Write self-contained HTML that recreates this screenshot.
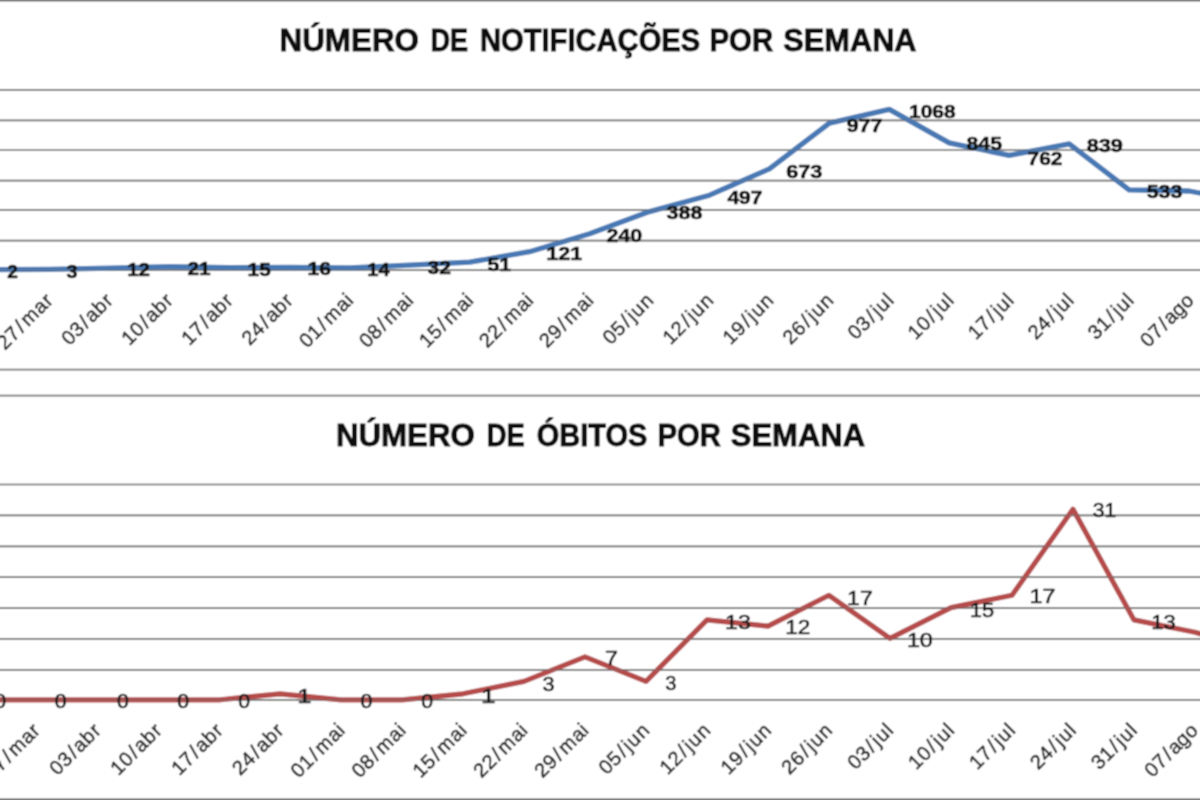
<!DOCTYPE html><html><head><meta charset="utf-8"><style>html,body{margin:0;padding:0;background:#fff;}svg{display:block}</style></head><body>
<svg width="1200" height="800" viewBox="0 0 1200 800">
<defs><filter id="blur" filterUnits="userSpaceOnUse" x="0" y="0" width="1200" height="800"><feConvolveMatrix order="3" kernelMatrix="1 2 1 2 4 2 1 2 1" divisor="16" edgeMode="duplicate"/></filter></defs>
<rect width="1200" height="800" fill="#ffffff"/>
<g filter="url(#blur)">
<rect width="1200" height="800" fill="#ffffff"/>
<rect x="0" y="0" width="1200" height="1.4" fill="#666"/>
<rect x="0" y="798.5" width="1200" height="1.5" fill="#666"/>
<line x1="0" x2="1200" y1="369.7" y2="369.7" stroke="#747474" stroke-width="1.7"/>
<line x1="0" x2="1200" y1="395.6" y2="395.6" stroke="#747474" stroke-width="1.7"/>
<line x1="0" x2="1200" y1="89.8" y2="89.8" stroke="#747474" stroke-width="1.7"/>
<line x1="0" x2="1200" y1="120.3" y2="120.3" stroke="#747474" stroke-width="1.7"/>
<line x1="0" x2="1200" y1="150.0" y2="150.0" stroke="#747474" stroke-width="1.7"/>
<line x1="0" x2="1200" y1="180.6" y2="180.6" stroke="#747474" stroke-width="1.7"/>
<line x1="0" x2="1200" y1="209.9" y2="209.9" stroke="#747474" stroke-width="1.7"/>
<line x1="0" x2="1200" y1="240.7" y2="240.7" stroke="#747474" stroke-width="1.7"/>
<line x1="0" x2="1200" y1="270.2" y2="270.2" stroke="#747474" stroke-width="1.7"/>
<line x1="0" x2="1200" y1="484.5" y2="484.5" stroke="#747474" stroke-width="1.7"/>
<line x1="0" x2="1200" y1="515.3" y2="515.3" stroke="#747474" stroke-width="1.7"/>
<line x1="0" x2="1200" y1="546.3" y2="546.3" stroke="#747474" stroke-width="1.7"/>
<line x1="0" x2="1200" y1="577.2" y2="577.2" stroke="#747474" stroke-width="1.7"/>
<line x1="0" x2="1200" y1="608.1" y2="608.1" stroke="#747474" stroke-width="1.7"/>
<line x1="0" x2="1200" y1="638.9" y2="638.9" stroke="#747474" stroke-width="1.7"/>
<line x1="0" x2="1200" y1="669.8" y2="669.8" stroke="#747474" stroke-width="1.7"/>
<line x1="0" x2="1200" y1="699.9" y2="699.9" stroke="#747474" stroke-width="1.7"/>
<text x="279.51" y="50.8" font-family="Liberation Sans" font-weight="bold" font-size="31.5" fill="#111" stroke="#111" stroke-width="0.9" textLength="139.49" lengthAdjust="spacingAndGlyphs">NÚMERO</text>
<text x="430.48" y="50.8" font-family="Liberation Sans" font-weight="bold" font-size="31.5" fill="#111" stroke="#111" stroke-width="0.9" textLength="37.68" lengthAdjust="spacingAndGlyphs">DE</text>
<text x="479.95" y="50.8" font-family="Liberation Sans" font-weight="bold" font-size="31.5" fill="#111" stroke="#111" stroke-width="0.9" textLength="220.28" lengthAdjust="spacingAndGlyphs">NOTIFICAÇÕES</text>
<text x="709.43" y="50.8" font-family="Liberation Sans" font-weight="bold" font-size="31.5" fill="#111" stroke="#111" stroke-width="0.9" textLength="63.75" lengthAdjust="spacingAndGlyphs">POR</text>
<text x="783.32" y="50.8" font-family="Liberation Sans" font-weight="bold" font-size="31.5" fill="#111" stroke="#111" stroke-width="0.9" textLength="133.27" lengthAdjust="spacingAndGlyphs">SEMANA</text>
<text x="335.91" y="445.8" font-family="Liberation Sans" font-weight="bold" font-size="31.5" fill="#111" stroke="#111" stroke-width="0.9" textLength="138.98" lengthAdjust="spacingAndGlyphs">NÚMERO</text>
<text x="486.76" y="445.8" font-family="Liberation Sans" font-weight="bold" font-size="31.5" fill="#111" stroke="#111" stroke-width="0.9" textLength="38.00" lengthAdjust="spacingAndGlyphs">DE</text>
<text x="536.68" y="445.8" font-family="Liberation Sans" font-weight="bold" font-size="31.5" fill="#111" stroke="#111" stroke-width="0.9" textLength="110.66" lengthAdjust="spacingAndGlyphs">ÓBITOS</text>
<text x="657.44" y="445.8" font-family="Liberation Sans" font-weight="bold" font-size="31.5" fill="#111" stroke="#111" stroke-width="0.9" textLength="63.48" lengthAdjust="spacingAndGlyphs">POR</text>
<text x="730.77" y="445.8" font-family="Liberation Sans" font-weight="bold" font-size="31.5" fill="#111" stroke="#111" stroke-width="0.9" textLength="134.33" lengthAdjust="spacingAndGlyphs">SEMANA</text>
<polyline points="-10.0,269.6 50.0,269.4 110.0,268.1 169.9,266.7 229.9,267.6 289.8,267.5 349.8,267.8 409.7,265.1 469.7,262.2 529.6,251.7 589.6,233.8 649.5,211.6 709.5,195.2 769.4,168.8 829.4,123.1 889.3,109.4 949.2,142.9 1009.2,155.4 1069.2,143.8 1129.1,189.8 1189.0,191.0 1249.0,202.3" fill="none" stroke="#4a79b4" stroke-width="5.3" stroke-linejoin="round" stroke-linecap="round"/>
<polyline points="-25.0,699.9 36.0,699.9 97.0,699.9 158.0,699.9 219.0,699.9 280.0,693.8 341.0,699.9 402.0,699.9 463.0,693.8 524.0,681.4 585.0,656.9 646.0,681.4 707.0,619.9 768.0,626.1 829.0,595.3 890.0,638.4 951.0,607.6 1012.0,595.3 1073.0,509.2 1134.0,619.9 1195.0,632.2 1256.0,650.7" fill="none" stroke="#b54c4b" stroke-width="5.2" stroke-linejoin="round" stroke-linecap="round"/>
<line x1="0" x2="1200" y1="484.5" y2="484.5" stroke="#747474" stroke-width="1.7" opacity="0.4"/>
<line x1="0" x2="1200" y1="515.3" y2="515.3" stroke="#747474" stroke-width="1.7" opacity="0.4"/>
<line x1="0" x2="1200" y1="546.3" y2="546.3" stroke="#747474" stroke-width="1.7" opacity="0.4"/>
<line x1="0" x2="1200" y1="577.2" y2="577.2" stroke="#747474" stroke-width="1.7" opacity="0.4"/>
<line x1="0" x2="1200" y1="608.1" y2="608.1" stroke="#747474" stroke-width="1.7" opacity="0.4"/>
<line x1="0" x2="1200" y1="638.9" y2="638.9" stroke="#747474" stroke-width="1.7" opacity="0.4"/>
<line x1="0" x2="1200" y1="669.8" y2="669.8" stroke="#747474" stroke-width="1.7" opacity="0.4"/>
<line x1="0" x2="1200" y1="699.9" y2="699.9" stroke="#747474" stroke-width="1.7" opacity="0.4"/>
<line x1="0" x2="1200" y1="89.8" y2="89.8" stroke="#747474" stroke-width="1.7" opacity="0.3"/>
<line x1="0" x2="1200" y1="120.3" y2="120.3" stroke="#747474" stroke-width="1.7" opacity="0.3"/>
<line x1="0" x2="1200" y1="150.0" y2="150.0" stroke="#747474" stroke-width="1.7" opacity="0.3"/>
<line x1="0" x2="1200" y1="180.6" y2="180.6" stroke="#747474" stroke-width="1.7" opacity="0.3"/>
<line x1="0" x2="1200" y1="209.9" y2="209.9" stroke="#747474" stroke-width="1.7" opacity="0.3"/>
<line x1="0" x2="1200" y1="240.7" y2="240.7" stroke="#747474" stroke-width="1.7" opacity="0.3"/>
<line x1="0" x2="1200" y1="270.2" y2="270.2" stroke="#747474" stroke-width="1.7" opacity="0.3"/>
<text x="7.27" y="277.50" font-family="Liberation Sans" font-weight="bold" font-size="18.5" fill="#111" stroke="#111" stroke-width="0.6" textLength="10.63" lengthAdjust="spacingAndGlyphs">2</text>
<text x="66.63" y="277.50" font-family="Liberation Sans" font-weight="bold" font-size="18.5" fill="#111" stroke="#111" stroke-width="0.6" textLength="10.97" lengthAdjust="spacingAndGlyphs">3</text>
<text x="127.19" y="275.80" font-family="Liberation Sans" font-weight="bold" font-size="18.5" fill="#111" stroke="#111" stroke-width="0.6" textLength="22.74" lengthAdjust="spacingAndGlyphs">12</text>
<text x="187.58" y="275.35" font-family="Liberation Sans" font-weight="bold" font-size="18.5" fill="#111" stroke="#111" stroke-width="0.6" textLength="23.07" lengthAdjust="spacingAndGlyphs">21</text>
<text x="247.63" y="275.75" font-family="Liberation Sans" font-weight="bold" font-size="18.5" fill="#111" stroke="#111" stroke-width="0.6" textLength="23.01" lengthAdjust="spacingAndGlyphs">15</text>
<text x="307.61" y="275.45" font-family="Liberation Sans" font-weight="bold" font-size="18.5" fill="#111" stroke="#111" stroke-width="0.6" textLength="23.45" lengthAdjust="spacingAndGlyphs">16</text>
<text x="367.22" y="275.80" font-family="Liberation Sans" font-weight="bold" font-size="18.5" fill="#111" stroke="#111" stroke-width="0.6" textLength="22.32" lengthAdjust="spacingAndGlyphs">14</text>
<text x="427.46" y="274.05" font-family="Liberation Sans" font-weight="bold" font-size="18.5" fill="#111" stroke="#111" stroke-width="0.6" textLength="23.39" lengthAdjust="spacingAndGlyphs">32</text>
<text x="487.46" y="270.90" font-family="Liberation Sans" font-weight="bold" font-size="18.5" fill="#111" stroke="#111" stroke-width="0.6" textLength="23.50" lengthAdjust="spacingAndGlyphs">51</text>
<text x="546.33" y="260.10" font-family="Liberation Sans" font-weight="bold" font-size="18.5" fill="#111" stroke="#111" stroke-width="0.6" textLength="35.97" lengthAdjust="spacingAndGlyphs">121</text>
<text x="606.44" y="241.80" font-family="Liberation Sans" font-weight="bold" font-size="18.5" fill="#111" stroke="#111" stroke-width="0.6" textLength="35.76" lengthAdjust="spacingAndGlyphs">240</text>
<text x="666.43" y="218.90" font-family="Liberation Sans" font-weight="bold" font-size="18.5" fill="#111" stroke="#111" stroke-width="0.6" textLength="35.97" lengthAdjust="spacingAndGlyphs">388</text>
<text x="727.40" y="203.60" font-family="Liberation Sans" font-weight="bold" font-size="18.5" fill="#111" stroke="#111" stroke-width="0.6" textLength="34.98" lengthAdjust="spacingAndGlyphs">497</text>
<text x="786.23" y="178.25" font-family="Liberation Sans" font-weight="bold" font-size="18.5" fill="#111" stroke="#111" stroke-width="0.6" textLength="36.18" lengthAdjust="spacingAndGlyphs">673</text>
<text x="846.84" y="131.50" font-family="Liberation Sans" font-weight="bold" font-size="18.5" fill="#111" stroke="#111" stroke-width="0.6" textLength="35.65" lengthAdjust="spacingAndGlyphs">977</text>
<text x="909.07" y="117.67" font-family="Liberation Sans" font-weight="bold" font-size="18.5" fill="#111" stroke="#111" stroke-width="0.6" textLength="46.50" lengthAdjust="spacingAndGlyphs">1068</text>
<text x="966.55" y="150.45" font-family="Liberation Sans" font-weight="bold" font-size="18.5" fill="#111" stroke="#111" stroke-width="0.6" textLength="35.44" lengthAdjust="spacingAndGlyphs">845</text>
<text x="1027.62" y="164.65" font-family="Liberation Sans" font-weight="bold" font-size="18.5" fill="#111" stroke="#111" stroke-width="0.6" textLength="34.85" lengthAdjust="spacingAndGlyphs">762</text>
<text x="1086.73" y="152.15" font-family="Liberation Sans" font-weight="bold" font-size="18.5" fill="#111" stroke="#111" stroke-width="0.6" textLength="36.18" lengthAdjust="spacingAndGlyphs">839</text>
<text x="1146.75" y="198.35" font-family="Liberation Sans" font-weight="bold" font-size="18.5" fill="#111" stroke="#111" stroke-width="0.6" textLength="35.49" lengthAdjust="spacingAndGlyphs">533</text>
<text x="-5.74" y="708.00" font-family="Liberation Sans" font-size="19.5" fill="#1a1a1a" stroke="#1a1a1a" stroke-width="0.6" textLength="11.81" lengthAdjust="spacingAndGlyphs">0</text>
<text x="54.89" y="708.00" font-family="Liberation Sans" font-size="19.5" fill="#1a1a1a" stroke="#1a1a1a" stroke-width="0.6" textLength="11.81" lengthAdjust="spacingAndGlyphs">0</text>
<text x="117.01" y="708.00" font-family="Liberation Sans" font-size="19.5" fill="#1a1a1a" stroke="#1a1a1a" stroke-width="0.6" textLength="11.81" lengthAdjust="spacingAndGlyphs">0</text>
<text x="177.26" y="708.00" font-family="Liberation Sans" font-size="19.5" fill="#1a1a1a" stroke="#1a1a1a" stroke-width="0.6" textLength="11.81" lengthAdjust="spacingAndGlyphs">0</text>
<text x="238.26" y="708.00" font-family="Liberation Sans" font-size="19.5" fill="#1a1a1a" stroke="#1a1a1a" stroke-width="0.6" textLength="11.81" lengthAdjust="spacingAndGlyphs">0</text>
<text x="297.38" y="702.50" font-family="Liberation Sans" font-size="19.5" fill="#1a1a1a" stroke="#1a1a1a" stroke-width="0.6" textLength="14.23" lengthAdjust="spacingAndGlyphs">1</text>
<text x="360.64" y="708.25" font-family="Liberation Sans" font-size="19.5" fill="#1a1a1a" stroke="#1a1a1a" stroke-width="0.6" textLength="11.81" lengthAdjust="spacingAndGlyphs">0</text>
<text x="421.26" y="708.25" font-family="Liberation Sans" font-size="19.5" fill="#1a1a1a" stroke="#1a1a1a" stroke-width="0.6" textLength="11.81" lengthAdjust="spacingAndGlyphs">0</text>
<text x="481.06" y="702.50" font-family="Liberation Sans" font-size="19.5" fill="#1a1a1a" stroke="#1a1a1a" stroke-width="0.6" textLength="14.57" lengthAdjust="spacingAndGlyphs">1</text>
<text x="542.64" y="691.00" font-family="Liberation Sans" font-size="19.5" fill="#1a1a1a" stroke="#1a1a1a" stroke-width="0.6" textLength="12.05" lengthAdjust="spacingAndGlyphs">3</text>
<text x="605.06" y="665.12" font-family="Liberation Sans" font-size="19.5" fill="#1a1a1a" stroke="#1a1a1a" stroke-width="0.6" textLength="12.95" lengthAdjust="spacingAndGlyphs">7</text>
<text x="665.22" y="689.50" font-family="Liberation Sans" font-size="19.5" fill="#1a1a1a" stroke="#1a1a1a" stroke-width="0.6" textLength="11.15" lengthAdjust="spacingAndGlyphs">3</text>
<text x="725.13" y="628.88" font-family="Liberation Sans" font-size="19.5" fill="#1a1a1a" stroke="#1a1a1a" stroke-width="0.6" textLength="25.68" lengthAdjust="spacingAndGlyphs">13</text>
<text x="785.18" y="634.25" font-family="Liberation Sans" font-size="19.5" fill="#1a1a1a" stroke="#1a1a1a" stroke-width="0.6" textLength="25.11" lengthAdjust="spacingAndGlyphs">12</text>
<text x="847.13" y="604.50" font-family="Liberation Sans" font-size="19.5" fill="#1a1a1a" stroke="#1a1a1a" stroke-width="0.6" textLength="25.68" lengthAdjust="spacingAndGlyphs">17</text>
<text x="906.91" y="647.00" font-family="Liberation Sans" font-size="19.5" fill="#1a1a1a" stroke="#1a1a1a" stroke-width="0.6" textLength="25.91" lengthAdjust="spacingAndGlyphs">10</text>
<text x="969.76" y="616.60" font-family="Liberation Sans" font-size="19.5" fill="#1a1a1a" stroke="#1a1a1a" stroke-width="0.6" textLength="24.31" lengthAdjust="spacingAndGlyphs">15</text>
<text x="1029.61" y="603.40" font-family="Liberation Sans" font-size="19.5" fill="#1a1a1a" stroke="#1a1a1a" stroke-width="0.6" textLength="25.91" lengthAdjust="spacingAndGlyphs">17</text>
<text x="1092.67" y="516.85" font-family="Liberation Sans" font-size="19.5" fill="#1a1a1a" stroke="#1a1a1a" stroke-width="0.6" textLength="23.48" lengthAdjust="spacingAndGlyphs">31</text>
<text x="1151.35" y="628.75" font-family="Liberation Sans" font-size="19.5" fill="#1a1a1a" stroke="#1a1a1a" stroke-width="0.6" textLength="24.43" lengthAdjust="spacingAndGlyphs">13</text>
<text transform="translate(-6.16,301.81) rotate(-45)" text-anchor="end" font-family="Liberation Sans" font-size="20" fill="#2c2c2c" stroke="#2c2c2c" stroke-width="0.6" dx="0.00 0.64 2.03 2.65 0.93 0.71">20/mar</text>
<text transform="translate(-19.89,731.81) rotate(-45)" text-anchor="end" font-family="Liberation Sans" font-size="20" fill="#2c2c2c" stroke="#2c2c2c" stroke-width="0.6" dx="0.00 0.64 2.03 2.65 0.93 0.71">20/mar</text>
<text transform="translate(53.89,301.81) rotate(-45)" text-anchor="end" font-family="Liberation Sans" font-size="20" fill="#2c2c2c" stroke="#2c2c2c" stroke-width="0.6" dx="0.00 0.64 2.03 2.65 0.93 0.71">27/mar</text>
<text transform="translate(41.05,731.81) rotate(-45)" text-anchor="end" font-family="Liberation Sans" font-size="20" fill="#2c2c2c" stroke="#2c2c2c" stroke-width="0.6" dx="0.00 0.64 2.03 2.65 0.93 0.71">27/mar</text>
<text transform="translate(113.94,301.81) rotate(-45)" text-anchor="end" font-family="Liberation Sans" font-size="20" fill="#2c2c2c" stroke="#2c2c2c" stroke-width="0.6" dx="0.00 0.64 2.03 1.70 0.52 1.25">03/abr</text>
<text transform="translate(101.99,731.81) rotate(-45)" text-anchor="end" font-family="Liberation Sans" font-size="20" fill="#2c2c2c" stroke="#2c2c2c" stroke-width="0.6" dx="0.00 0.64 2.03 1.70 0.52 1.25">03/abr</text>
<text transform="translate(173.99,301.81) rotate(-45)" text-anchor="end" font-family="Liberation Sans" font-size="20" fill="#2c2c2c" stroke="#2c2c2c" stroke-width="0.6" dx="0.00 0.64 2.03 1.70 0.52 1.25">10/abr</text>
<text transform="translate(162.93,731.81) rotate(-45)" text-anchor="end" font-family="Liberation Sans" font-size="20" fill="#2c2c2c" stroke="#2c2c2c" stroke-width="0.6" dx="0.00 0.64 2.03 1.70 0.52 1.25">10/abr</text>
<text transform="translate(234.04,301.81) rotate(-45)" text-anchor="end" font-family="Liberation Sans" font-size="20" fill="#2c2c2c" stroke="#2c2c2c" stroke-width="0.6" dx="0.00 0.64 2.03 1.70 0.52 1.25">17/abr</text>
<text transform="translate(223.87,731.81) rotate(-45)" text-anchor="end" font-family="Liberation Sans" font-size="20" fill="#2c2c2c" stroke="#2c2c2c" stroke-width="0.6" dx="0.00 0.64 2.03 1.70 0.52 1.25">17/abr</text>
<text transform="translate(294.09,301.81) rotate(-45)" text-anchor="end" font-family="Liberation Sans" font-size="20" fill="#2c2c2c" stroke="#2c2c2c" stroke-width="0.6" dx="0.00 0.64 2.03 1.70 0.52 1.25">24/abr</text>
<text transform="translate(284.81,731.81) rotate(-45)" text-anchor="end" font-family="Liberation Sans" font-size="20" fill="#2c2c2c" stroke="#2c2c2c" stroke-width="0.6" dx="0.00 0.64 2.03 1.70 0.52 1.25">24/abr</text>
<text transform="translate(354.34,301.61) rotate(-45)" text-anchor="end" font-family="Liberation Sans" font-size="20" fill="#2c2c2c" stroke="#2c2c2c" stroke-width="0.6" dx="0.00 0.64 2.03 2.65 0.93 0.43">01/mai</text>
<text transform="translate(345.95,731.61) rotate(-45)" text-anchor="end" font-family="Liberation Sans" font-size="20" fill="#2c2c2c" stroke="#2c2c2c" stroke-width="0.6" dx="0.00 0.64 2.03 2.65 0.93 0.43">01/mai</text>
<text transform="translate(414.39,301.61) rotate(-45)" text-anchor="end" font-family="Liberation Sans" font-size="20" fill="#2c2c2c" stroke="#2c2c2c" stroke-width="0.6" dx="0.00 0.64 2.03 2.65 0.93 0.43">08/mai</text>
<text transform="translate(406.89,731.61) rotate(-45)" text-anchor="end" font-family="Liberation Sans" font-size="20" fill="#2c2c2c" stroke="#2c2c2c" stroke-width="0.6" dx="0.00 0.64 2.03 2.65 0.93 0.43">08/mai</text>
<text transform="translate(474.44,301.61) rotate(-45)" text-anchor="end" font-family="Liberation Sans" font-size="20" fill="#2c2c2c" stroke="#2c2c2c" stroke-width="0.6" dx="0.00 0.64 2.03 2.65 0.93 0.43">15/mai</text>
<text transform="translate(467.83,731.61) rotate(-45)" text-anchor="end" font-family="Liberation Sans" font-size="20" fill="#2c2c2c" stroke="#2c2c2c" stroke-width="0.6" dx="0.00 0.64 2.03 2.65 0.93 0.43">15/mai</text>
<text transform="translate(534.49,301.61) rotate(-45)" text-anchor="end" font-family="Liberation Sans" font-size="20" fill="#2c2c2c" stroke="#2c2c2c" stroke-width="0.6" dx="0.00 0.64 2.03 2.65 0.93 0.43">22/mai</text>
<text transform="translate(528.77,731.61) rotate(-45)" text-anchor="end" font-family="Liberation Sans" font-size="20" fill="#2c2c2c" stroke="#2c2c2c" stroke-width="0.6" dx="0.00 0.64 2.03 2.65 0.93 0.43">22/mai</text>
<text transform="translate(594.54,301.61) rotate(-45)" text-anchor="end" font-family="Liberation Sans" font-size="20" fill="#2c2c2c" stroke="#2c2c2c" stroke-width="0.6" dx="0.00 0.64 2.03 2.65 0.93 0.43">29/mai</text>
<text transform="translate(589.71,731.61) rotate(-45)" text-anchor="end" font-family="Liberation Sans" font-size="20" fill="#2c2c2c" stroke="#2c2c2c" stroke-width="0.6" dx="0.00 0.64 2.03 2.65 0.93 0.43">29/mai</text>
<text transform="translate(654.53,301.67) rotate(-45)" text-anchor="end" font-family="Liberation Sans" font-size="20" fill="#2c2c2c" stroke="#2c2c2c" stroke-width="0.6" dx="0.00 0.64 2.03 2.44 1.27 1.06">05/jun</text>
<text transform="translate(650.59,731.67) rotate(-45)" text-anchor="end" font-family="Liberation Sans" font-size="20" fill="#2c2c2c" stroke="#2c2c2c" stroke-width="0.6" dx="0.00 0.64 2.03 2.44 1.27 1.06">05/jun</text>
<text transform="translate(714.58,301.67) rotate(-45)" text-anchor="end" font-family="Liberation Sans" font-size="20" fill="#2c2c2c" stroke="#2c2c2c" stroke-width="0.6" dx="0.00 0.64 2.03 2.44 1.27 1.06">12/jun</text>
<text transform="translate(711.53,731.67) rotate(-45)" text-anchor="end" font-family="Liberation Sans" font-size="20" fill="#2c2c2c" stroke="#2c2c2c" stroke-width="0.6" dx="0.00 0.64 2.03 2.44 1.27 1.06">12/jun</text>
<text transform="translate(774.63,301.67) rotate(-45)" text-anchor="end" font-family="Liberation Sans" font-size="20" fill="#2c2c2c" stroke="#2c2c2c" stroke-width="0.6" dx="0.00 0.64 2.03 2.44 1.27 1.06">19/jun</text>
<text transform="translate(772.47,731.67) rotate(-45)" text-anchor="end" font-family="Liberation Sans" font-size="20" fill="#2c2c2c" stroke="#2c2c2c" stroke-width="0.6" dx="0.00 0.64 2.03 2.44 1.27 1.06">19/jun</text>
<text transform="translate(834.68,301.67) rotate(-45)" text-anchor="end" font-family="Liberation Sans" font-size="20" fill="#2c2c2c" stroke="#2c2c2c" stroke-width="0.6" dx="0.00 0.64 2.03 2.44 1.27 1.06">26/jun</text>
<text transform="translate(833.41,731.67) rotate(-45)" text-anchor="end" font-family="Liberation Sans" font-size="20" fill="#2c2c2c" stroke="#2c2c2c" stroke-width="0.6" dx="0.00 0.64 2.03 2.44 1.27 1.06">26/jun</text>
<text transform="translate(894.79,301.61) rotate(-45)" text-anchor="end" font-family="Liberation Sans" font-size="20" fill="#2c2c2c" stroke="#2c2c2c" stroke-width="0.6" dx="0.00 0.64 2.03 2.44 1.27 0.96">03/jul</text>
<text transform="translate(894.41,731.61) rotate(-45)" text-anchor="end" font-family="Liberation Sans" font-size="20" fill="#2c2c2c" stroke="#2c2c2c" stroke-width="0.6" dx="0.00 0.64 2.03 2.44 1.27 0.96">03/jul</text>
<text transform="translate(954.84,301.61) rotate(-45)" text-anchor="end" font-family="Liberation Sans" font-size="20" fill="#2c2c2c" stroke="#2c2c2c" stroke-width="0.6" dx="0.00 0.64 2.03 2.44 1.27 0.96">10/jul</text>
<text transform="translate(955.35,731.61) rotate(-45)" text-anchor="end" font-family="Liberation Sans" font-size="20" fill="#2c2c2c" stroke="#2c2c2c" stroke-width="0.6" dx="0.00 0.64 2.03 2.44 1.27 0.96">10/jul</text>
<text transform="translate(1014.89,301.61) rotate(-45)" text-anchor="end" font-family="Liberation Sans" font-size="20" fill="#2c2c2c" stroke="#2c2c2c" stroke-width="0.6" dx="0.00 0.64 2.03 2.44 1.27 0.96">17/jul</text>
<text transform="translate(1016.29,731.61) rotate(-45)" text-anchor="end" font-family="Liberation Sans" font-size="20" fill="#2c2c2c" stroke="#2c2c2c" stroke-width="0.6" dx="0.00 0.64 2.03 2.44 1.27 0.96">17/jul</text>
<text transform="translate(1074.94,301.61) rotate(-45)" text-anchor="end" font-family="Liberation Sans" font-size="20" fill="#2c2c2c" stroke="#2c2c2c" stroke-width="0.6" dx="0.00 0.64 2.03 2.44 1.27 0.96">24/jul</text>
<text transform="translate(1077.23,731.61) rotate(-45)" text-anchor="end" font-family="Liberation Sans" font-size="20" fill="#2c2c2c" stroke="#2c2c2c" stroke-width="0.6" dx="0.00 0.64 2.03 2.44 1.27 0.96">24/jul</text>
<text transform="translate(1134.99,301.61) rotate(-45)" text-anchor="end" font-family="Liberation Sans" font-size="20" fill="#2c2c2c" stroke="#2c2c2c" stroke-width="0.6" dx="0.00 0.64 2.03 2.44 1.27 0.96">31/jul</text>
<text transform="translate(1138.17,731.61) rotate(-45)" text-anchor="end" font-family="Liberation Sans" font-size="20" fill="#2c2c2c" stroke="#2c2c2c" stroke-width="0.6" dx="0.00 0.64 2.03 2.44 1.27 0.96">31/jul</text>
<text transform="translate(1194.96,301.69) rotate(-45)" text-anchor="end" font-family="Liberation Sans" font-size="20" fill="#2c2c2c" stroke="#2c2c2c" stroke-width="0.6" dx="0.00 0.64 2.03 1.70 -0.10 0.45">07/ago</text>
<text transform="translate(1199.03,731.69) rotate(-45)" text-anchor="end" font-family="Liberation Sans" font-size="20" fill="#2c2c2c" stroke="#2c2c2c" stroke-width="0.6" dx="0.00 0.64 2.03 1.70 -0.10 0.45">07/ago</text>
</g>
</svg></body></html>
